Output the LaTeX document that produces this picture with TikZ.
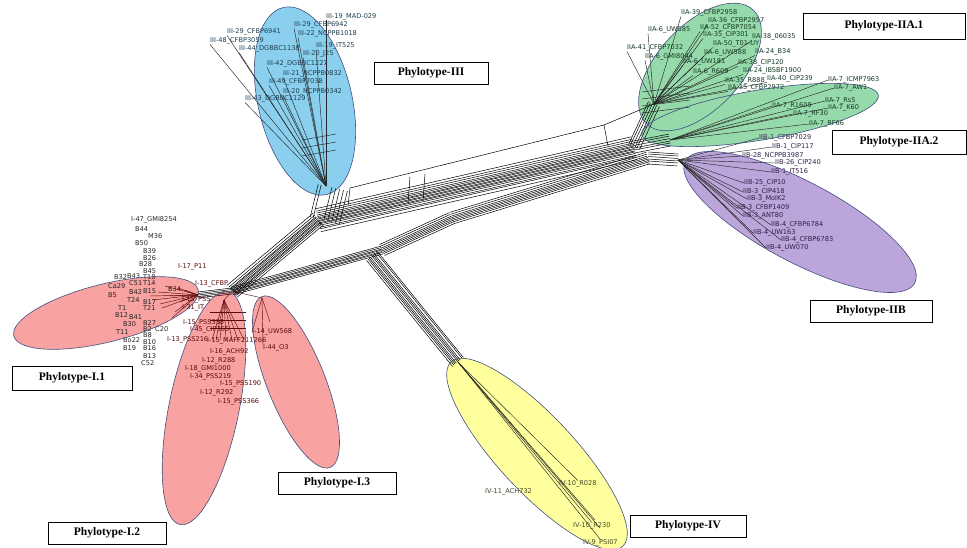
\documentclass[tikz,border=0pt]{standalone}
\usepackage{fontspec}
\setmainfont{Liberation Serif}
\newfontfamily\tipfont{DejaVu Sans}
\usetikzlibrary{calc}
\definecolor{cIII}{RGB}{138,208,238}
\definecolor{cIIA}{RGB}{150,218,172}
\definecolor{cIIB}{RGB}{188,165,218}
\definecolor{cI}{RGB}{248,162,162}
\definecolor{cIV}{RGB}{255,255,158}
\definecolor{rimc}{RGB}{66,78,128}
\definecolor{inkI}{RGB}{95,12,12}
\definecolor{inkIII}{RGB}{30,62,82}
\definecolor{inkIIA}{RGB}{22,58,36}
\definecolor{inkIIB}{RGB}{48,32,72}
\definecolor{inkIV}{RGB}{70,70,40}
\tikzset{net/.style={line width=0.5pt, black},
  twig/.style={line width=0.45pt, black!85},
  twigI/.style={line width=0.45pt, inkI},
  clade/.style={line width=0.6pt, draw=rimc},
  tag/.style={draw, line width=0.8pt, fill=white, inner sep=0pt, font=\bfseries\fontsize{11.5}{12}\selectfont},
  tip/.style={anchor=west, inner sep=0pt, font=\tipfont\fontsize{6.6}{7}\selectfont, text=black!80}}

\begin{document}
\begin{tikzpicture}[x=1pt, y=-1pt]
  \useasboundingbox (0,0) rectangle (967,548);
  % clade fills
  \foreach \cx/\cy/\rx/\ry/\rot/\col in {305/101/47/96/13/cIII, 700/67/78/42/47/cIIA, 760/115/120/25/9.5/cIIA, 800/222/130/40/-28/cIIB, 106/313/95/29/14/cI, 204/408/35/119/-11.6/cI, 296/382/29/92/21.8/cI, 537/454/126/38/-47/cIV}
    \fill[fill=\col, rotate around={\rot:(\cx,\cy)}] (\cx,\cy) ellipse [x radius=\rx, y radius=\ry];

  % strain labels
  \foreach \x/\y/\t [count=\i] in {326/17/III-19\_MAD-029, 294/25/III-29\_CFBP6942, 227/32/III-29\_CFBP6941,
      298/34/III-22\_NCPPB1018, 210/41/III-48\_CFBP3059, 239/49/III-44\_DGBBC1138, 316/46/III-19\_IT525,
      303/54/III-20\_J25, 267/64/III-42\_DGBBC1227, 283/74/III-21\_NCPPB0832, 269/82/III-49\_CFBP7038,
      283/92/III-20\_NCPPB0342, 245/99/III-43\_DGBBC1129}
    \node[tip, text=inkIII] (tIII-\i) at (\x,\y) {\t};
  \foreach \x/\y/\t [count=\i] in {681/13/IIA-39\_CFBP2958, 708/21/IIA-36\_CFBP2957, 648/30/IIA-6\_UW585,
      700/28/IIA-52\_CFBP7054, 703/35/IIA-35\_CIP301, 752/37/IIA-38\_06035, 713/44/IIA-50\_T01-UY,
      627/48/IIA-41\_CFBP7032, 704/53/IIA-6\_UW588, 645/57/IIA-6\_GMI8044, 755/52/IIA-24\_B34,
      683/62/IIA-6\_UW181, 738/63/IIA-38\_CIP120, 693/72/IIA-6\_R609, 743/71/IIA-24\_IBSBF1900,
      725/81/IIA-35\_R888, 767/79/IIA-40\_CIP239, 728/88/IIA-35\_CFBP2972}
    \node[tip, text=inkIIA] (tIIA-\i) at (\x,\y) {\t};
  \foreach \x/\y/\t [count=\i] in {828/80/IIA-7\_ICMP7963, 834/88/IIA-7\_AW1, 825/101/IIA-7\_Rs5,
      828/108/IIA-7\_K60, 772/106/IIA-7\_R1609, 793/114/IIA-7\_RF30, 809/124/IIA-7\_RF66}
    \node[tip, text=inkIIA] (tIIAb-\i) at (\x,\y) {\t};
  \foreach \x/\y/\t [count=\i] in {759/138/IIB-1\_CFBP7029, 772/147/IIB-1\_CIP117, 742/156/IIB-28\_NCPPB3987,
      775/163/IIB-26\_CIP240, 771/172/IIB-1\_IT516, 744/183/IIB-25\_CIP10, 743/192/IIB-3\_CIP418,
      747/199/IIB-3\_MolK2, 737/208/IIB-3\_CFBP1409, 743/216/IIB-3\_ANT80, 771/225/IIB-4\_CFBP6784,
      753/233/IIB-4\_UW163, 781/240/IIB-4\_CFBP6783, 766/248/IIB-4\_UW070}
    \node[tip, text=inkIIB] (tIIB-\i) at (\x,\y) {\t};
  \foreach \x/\y/\t [count=\i] in {131/220/I-47\_GMI8254, 135/229/B44, 148/236/M36, 135/243/B50,
      143/251/B39, 143/258/B26, 139/264/B28, 143/271/B45, 114/277/B32, 127/276/B43, 143/277/T18,
      108/286/Ca29, 129/283/C51, 143/283/T14, 108/295/B5, 129/292/B42, 143/291/B15, 168/289/B34,
      127/300/T24, 143/302/B17, 118/308/T1, 143/308/T21, 115/315/B12, 129/317/B41, 143/323/B27,
      123/324/B30, 143/329/B2, 155/329/C20, 116/332/T11, 143/335/B8, 123/340/Bo22, 143/342/B10,
      123/348/B19, 143/348/B16, 143/356/B13, 141/363/C52}
    \node[tip, text=black!85] (tI-\i) at (\x,\y) {\t};
  \foreach \x/\y/\t [count=\i] in {178/267/I-17\_P11, 195/284/I-13\_CFBP, 182/300/I-15\_PSS,
      182/308/I-31\_IT, 183/323/I-15\_PSS358, 190/330/I-45\_CIP365, 167/340/I-13\_PSS216,
      207/341/I-15\_MAFF211266, 252/332/I-14\_UW568, 263/348/I-44\_O3, 210/352/I-16\_ACH92,
      202/361/I-12\_R288, 185/369/I-18\_GMI1000, 190/377/I-34\_PSS219, 220/384/I-15\_PSS190,
      200/393/I-12\_R292, 218/402/I-15\_PSS366}
    \node[tip, text=inkI] (tIc-\i) at (\x,\y) {\t};
  \foreach \x/\y/\t [count=\i] in {485/492/IV-11\_ACH732, 559/484/IV-10\_R028, 573/526/IV-10\_R230,
      583/543/IV-9\_PSI07}
    \node[tip, text=inkIV] (tIV-\i) at (\x,\y) {\t};

  % splits network
  \coordinate (hubI) at (232,291);
  \coordinate (jIII) at (318,219);
  \coordinate (jIV) at (382,250);
  \coordinate (bend) at (452,218);
  \coordinate (jR) at (634,147);
  \coordinate (jR2) at (648,158);
  \coordinate (jIVb) at (372,256);
  \coordinate (hIII) at (326,186);
  \coordinate (hIIA1) at (654,104);
  \coordinate (hIIA2) at (670,140);
  \coordinate (hIIB) at (678,160);
  \coordinate (hI1) at (198,295);
  \coordinate (hI2) at (224,300);
  \coordinate (hI3) at (262,298);
  \coordinate (hIV) at (458,362);
  \foreach \o in {-8,-6,-4.5,-3.5,-2,-1,0.5,2,3,5,7.5}
    \draw[net] ($(hubI)!\o pt!90:(jIII)$) -- ($(jIII)!\o pt!-90:(hubI)$);
  \foreach \o in {-13,-10,-8.5,-6.5,-5,-4,-2.5,-1.5,0,1,2.5,4,6,8,10.5}
    \draw[net] ($(jIII)!\o pt!90:(jR)$) -- ($(jR)!\o pt!-90:(jIII)$);
  \foreach \o in {-4,-2.5,-1.5,0,1,2.5,4}
    \draw[net] ($(hubI)!\o pt!90:(jIV)$) -- ($(jIV)!\o pt!-90:(hubI)$);
  \foreach \o in {-6,-4,-2.5,-1,0.5,2,4,6} {
    \draw[net] ($(jIV)!\o pt!90:(bend)$) -- ($(bend)!\o pt!-90:(jIV)$);
    \draw[net] ($(bend)!\o pt!90:(jR2)$) -- ($(jR2)!\o pt!-90:(bend)$);
  }
  \foreach \o in {-7,-5,-3.5,-2,0,1.5,3,5.5,7}
    \draw[net] ($(jIVb)!\o pt!90:(hIV)$) -- ($(hIV)!\o pt!-90:(jIVb)$);
  \foreach \o in {8,5,-6,-10,-14,-18,-22}
    \draw[net] ($(jIII)!\o pt!90:(hIII)$) -- ($(hIII)!\o pt!-90:(jIII)$);
  \foreach \o in {-3,-1.5,0,1.5,3}
    \draw[net] ($(hubI)!\o pt!90:(hI1)$) -- ($(hI1)!\o pt!-90:(hubI)$);
  \foreach \o in {-6,-3,-1,1.5,4,6} {
    \draw[net] ($(jR)!\o pt!90:(hIIA1)$) -- ($(hIIA1)!\o pt!-90:(jR)$);
    \draw[net] ($(jR2)!\o pt!90:(hIIB)$) -- ($(hIIB)!\o pt!-90:(jR2)$);
    \draw[net] ($(jR)!\o pt!90:(hIIA2)$) -- ($(hIIA2)!\o pt!-90:(jR)$);
  }
  % long outlying split
  \draw[net] (348,206) -- (350,188) -- (604,125) -- (608,146);
  \draw[net] (604,125) -- (hIIA1);
  \draw[net] (410,177) -- (408,203);
  \draw[net] (425,174) -- (423,201);
  % ladders
  \foreach \y in {86,93,100,107}
    \draw[twig] (642,\y+6) -- (690,\y);
  \foreach \y in {140,148,156}
    \draw[twig] (302,\y) -- (336,\y-6);

  % leaves
  \foreach \i in {1,...,13}
    \draw[twig] (hIII) -- (tIII-\i.south west);
  \foreach \i in {1,...,18}
    \draw[twig] (hIIA1) -- (tIIA-\i.south west);
  \foreach \i in {1,...,7}
    \draw[twig] (hIIA2) -- (tIIAb-\i.west);
  \foreach \i in {1,...,14}
    \draw[twig] (hIIB) -- (tIIB-\i.west);
  \foreach \x/\y in {152/300, 158/292, 162/308, 170/296, 175/312, 180/302, 165/286, 185/290, 150/296, 172/318, 160/304, 178/288}
    \draw[twigI] (hI1) -- (\x,\y);
  \draw[twigI] (hubI) -- (hI2);
  \foreach \x in {212,216,220,226,232,238,244}
    \draw[twigI] (hI2) -- (\x,340);
  \foreach \y in {312,320,328}
    \draw[twigI] (210,\y) -- (246,\y);
  \draw[twigI] (hubI) -- (hI3);
  \draw[twigI] (hI3) -- (tIc-9.west);
  \draw[twigI] (hI3) -- (tIc-10.north west);
  \draw[twigI] (hI3) -- (270,322);
  \foreach \i in {2,3,4}
    \draw[twig] (hIV) -- (tIV-\i.north);
  \draw[twig] (hIV) -- (595,520);
  \draw[twig] (hIV) -- (600,528);

  % clade outlines
  \foreach \cx/\cy/\rx/\ry/\rot in {305/101/47/96/13, 700/67/78/42/47, 760/115/120/25/9.5, 800/222/130/40/-28, 106/313/95/29/14, 204/408/35/119/-11.6, 296/382/29/92/21.8, 537/454/126/38/-47}
    \draw[clade, rotate around={\rot:(\cx,\cy)}] (\cx,\cy) ellipse [x radius=\rx, y radius=\ry];

  % phylotype tags
  \node[tag, minimum width=114, minimum height=22] (bIII) at (431,73) {Phylotype-III};
  \node[tag, minimum width=162, minimum height=26] (bIIA1) at (884,26) {Phylotype-IIA.1};
  \node[tag, minimum width=134, minimum height=24] (bIIA2) at (899,142) {Phylotype-IIA.2};
  \node[tag, minimum width=122, minimum height=22] (bIIB) at (871,311) {Phylotype-IIB};
  \node[tag, minimum width=120, minimum height=24] (bI1) at (72,378) {Phylotype-I.1};
  \node[tag, minimum width=118, minimum height=22] (bI2) at (107,533) {Phylotype-I.2};
  \node[tag, minimum width=118, minimum height=22] (bI3) at (337,483) {Phylotype-I.3};
  \node[tag, minimum width=116, minimum height=22] (bIV) at (688,526) {Phylotype-IV};
\end{tikzpicture}
\end{document}
